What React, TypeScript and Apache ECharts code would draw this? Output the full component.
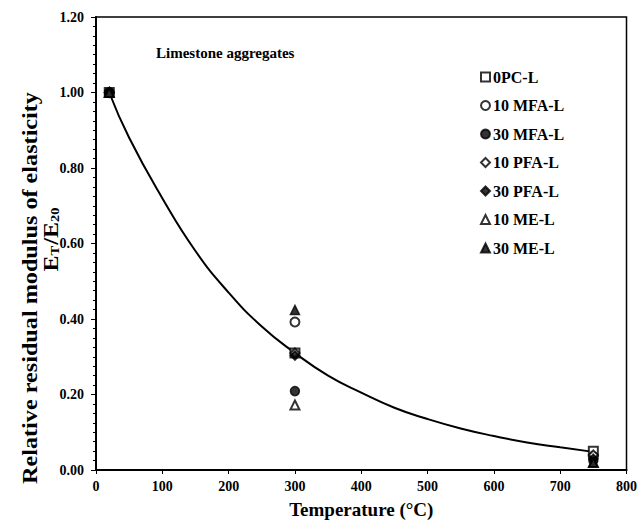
import React, { useEffect, useRef } from "react";
import * as echarts from "echarts";

const temperatures = [20, 300, 750];
const seriesNames = ["0PC-L", "10 MFA-L", "30 MFA-L", "10 PFA-L", "30 PFA-L", "10 ME-L", "30 ME-L"];
const seriesSymbols = ["emptyRect", "emptyCircle", "circle", "emptyDiamond", "diamond", "emptyTriangle", "triangle"];
const v0PC = [1.0, 0.31, 0.05];
const v10MFA = [1.0, 0.392, 0.035];
const v30MFA = [1.0, 0.209, 0.025];
const v10PFA = [1.0, 0.31, 0.04];
const v30PFA = [1.0, 0.303, 0.03];
const v10ME = [1.0, 0.172, 0.02];
const v30ME = [1.0, 0.424, 0.02];
const seriesValues = [v0PC, v10MFA, v30MFA, v10PFA, v30PFA, v10ME, v30ME];

const trendX = [20, 50, 100, 150, 200, 250, 300, 350, 400, 450, 500, 550, 600, 650, 700, 750];
const trendY = [1.0, 0.88, 0.72, 0.58, 0.47, 0.38, 0.31, 0.25, 0.205, 0.165, 0.135, 0.11, 0.09, 0.073, 0.06, 0.048];

const xTicks = [0, 100, 200, 300, 400, 500, 600, 700, 800];
const yTicks = [0, 0.2, 0.4, 0.6, 0.8, 1.0, 1.2];

const FONT = "Liberation Serif";

export default function App() {
  const ref = useRef<HTMLDivElement>(null);
  useEffect(() => {
    if (!ref.current) return;
    const chart = echarts.init(ref.current, null, { renderer: "svg" });
    const scatter = seriesNames.map((name, i) => ({
      name,
      type: "scatter",
      symbol: seriesSymbols[i],
      symbolSize: 9,
      z: 3,
      itemStyle: { color: "#000", borderColor: "#000", borderWidth: 1.5 },
      data: temperatures.map((t, j) => [t, seriesValues[i][j]]),
    }));
    chart.setOption({
      animation: false,
      backgroundColor: "#fff",
      grid: { left: 96, right: 12, top: 17, bottom: 52, show: true, borderColor: "#000", borderWidth: 1.5, backgroundColor: "transparent" },
      title: {
        text: "Limestone aggregates",
        left: 151,
        top: 40,
        textStyle: { fontFamily: FONT, fontWeight: "bold", fontSize: 15, color: "#000" },
      },
      legend: {
        orient: "vertical",
        left: 475,
        top: 64,
        itemGap: 12.5,
        itemWidth: 9,
        itemHeight: 9,
        data: seriesNames,
        textStyle: { fontFamily: FONT, fontWeight: "bold", fontSize: 16, color: "#000", padding: [0, 0, 0, -2] },
      },
      xAxis: {
        type: "value",
        min: xTicks[0],
        max: xTicks[xTicks.length - 1],
        interval: 100,
        axisLine: { lineStyle: { color: "#000", width: 2 } },
        axisTick: { show: true, length: 4, inside: false, lineStyle: { color: "#000", width: 1 } },
        axisLabel: { fontFamily: FONT, fontWeight: "bold", fontSize: 14, color: "#000", margin: 9 },
        splitLine: { show: false },
        name: "Temperature (°C)",
        nameLocation: "middle",
        nameGap: 30,
        nameTextStyle: { fontFamily: FONT, fontWeight: "bold", fontSize: 19, color: "#000" },
      },
      yAxis: {
        type: "value",
        min: yTicks[0],
        max: yTicks[yTicks.length - 1],
        interval: 0.2,
        axisLine: { lineStyle: { color: "#000", width: 2 } },
        axisTick: { show: true, length: 5, lineStyle: { color: "#000", width: 1 } },
        minorTick: { show: true, splitNumber: 8, length: 3, lineStyle: { color: "#000", width: 1 } },
        axisLabel: { fontFamily: FONT, fontWeight: "bold", fontSize: 14, color: "#000", margin: 12, formatter: (v: number) => v.toFixed(2) },
        splitLine: { show: false },
      },
      graphic: [
        {
          type: "text",
          x: 30,
          y: 288,
          rotation: Math.PI / 2,
          scaleX: 1.21,
          style: {
            text: "Relative residual modulus of elasticity",
            font: `bold 20px "${FONT}"`,
            fill: "#000",
            align: "center",
            verticalAlign: "middle",
          },
        },
        {
          type: "text",
          x: 50,
          y: 239,
          rotation: Math.PI / 2,
          scaleX: 1.2,
          style: {
            text: "{b|E}{s|T}{b|/E}{s|20}",
            fill: "#000",
            align: "center",
            verticalAlign: "middle",
            rich: {
              b: { fontFamily: FONT, fontWeight: "bold", fontSize: 20, fill: "#000", verticalAlign: "bottom", lineHeight: 22 },
              s: { fontFamily: FONT, fontWeight: "bold", fontSize: 12, fill: "#000", verticalAlign: "bottom", lineHeight: 14, padding: [0, 1, 0, 0] },
            },
          },
        },
      ],
      series: [
        {
          name: "trend",
          type: "line",
          smooth: true,
          symbol: "none",
          z: 2,
          lineStyle: { color: "#000", width: 2 },
          data: trendX.map((x, i) => [x, trendY[i]]),
        },
        ...scatter,
      ],
    });
    return () => chart.dispose();
  }, []);
  return <div ref={ref} style={{ width: 640, height: 524, position: "absolute", left: 0, top: 0 }} />;
}
